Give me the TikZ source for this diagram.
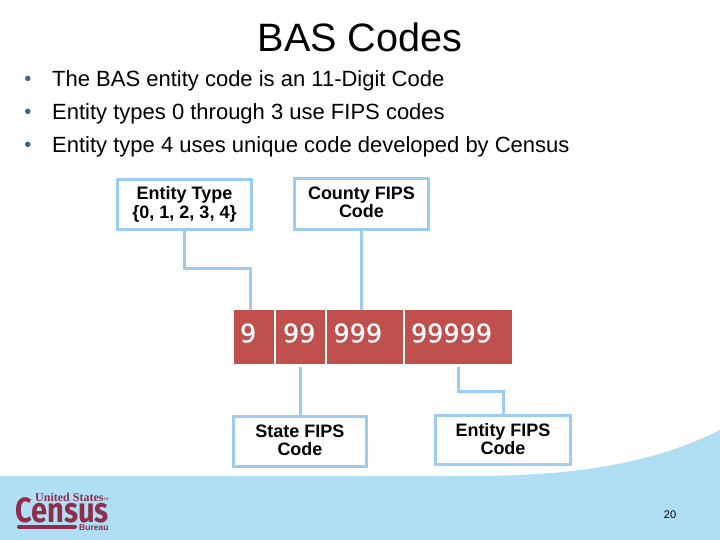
\documentclass[tikz,border=0pt]{standalone}
\usepackage{fontspec}
\setmainfont{Liberation Sans}
\newfontfamily\cellfont[FakeBold=0.5]{DejaVu Sans}
\newfontfamily\logofont{Fira Sans}
\newfontfamily\logoserif{Liberation Serif}
\usetikzlibrary{positioning}
\definecolor{boxblue}{HTML}{9DCBF1}
\definecolor{footblue}{HTML}{B0DEF3}
\definecolor{cellred}{HTML}{C0504D}
\definecolor{logored}{HTML}{902C4C}
\definecolor{dotblue}{HTML}{3F5F85}
\newcommand{\liftlast}[1]{\rule[-#1]{0pt}{0pt}}
\tikzset{
	labelbox/.style={draw=boxblue,line width=3pt,fill=white,inner sep=0,outer sep=0,align=center,font=\fontsize{18}{18}\selectfont\bfseries},
	cellbox/.style={fill=cellred,text=white,inner sep=0,outer sep=0,minimum height=54pt,anchor=west,text height=18.6pt,text depth=8pt,font=\fontsize{25.5}{30}\selectfont\cellfont},
	link/.style={draw=boxblue,line width=3pt},
	bulletline/.style={anchor=base west,inner sep=0,font=\fontsize{22}{26}\selectfont,text=black},
	bulletdot/.style={anchor=base,inner sep=0,font=\fontsize{20}{24}\selectfont,text=dotblue}
}
\begin{document}
\begin{tikzpicture}[x=1pt,y=-1pt]
	\useasboundingbox (0,0) rectangle (720,540);
	\fill[footblue] (0,476) -- (470,476) .. controls (570,476) and (650,465) .. (720,430) -- (720,540) -- (0,540) -- cycle;
	\node[inner sep=0,anchor=base,font=\fontsize{39.6}{44}\selectfont] (title) at (360,52) {BAS Codes};
	\node[bulletdot] (dot1) at (28,86) {•};
	\node[bulletdot] (dot2) at (28,119) {•};
	\node[bulletdot] (dot3) at (28,152) {•};
	\node[bulletline] (line1) at (52,87) {The BAS entity code is an 11-Digit Code};
	\node[bulletline] (line2) at (52,120) {Entity types 0 through 3 use FIPS codes};
	\node[bulletline] (line3) at (52,153) {Entity type 4 uses unique code developed by Census};
	\node[labelbox,minimum width=134pt,minimum height=50pt] (typebox) at (184.5,204.5) {Entity Type\\[1pt]{\{0, 1, 2, 3, 4\}}};
	\node[labelbox,minimum width=134pt,minimum height=51pt] (countybox) at (361.5,204) {County FIPS\\Code\liftlast{4pt}};
	\node[labelbox,minimum width=133pt,minimum height=50pt] (statebox) at (300,441.5) {State FIPS\\Code\liftlast{3pt}};
	\node[labelbox,minimum width=135pt,minimum height=49pt] (fipsbox) at (503,440) {Entity FIPS\\Code\liftlast{2pt}};
	\node[cellbox,minimum width=40pt,text width=34pt,inner xsep=3pt] (cell1) at (234,337) {\hspace{3pt}9};
	\node[cellbox,minimum width=49pt,text width=42pt,inner xsep=3.5pt] (cell2) at (276,337) {\hspace{3.5pt}99};
	\node[cellbox,minimum width=76pt,text width=70pt,inner xsep=3pt] (cell3) at (327,337) {\hspace{3.5pt}999};
	\node[cellbox,minimum width=107pt,text width=100pt,inner xsep=3.5pt] (cell4) at (405,337) {\hspace{2.5pt}99999};
	\draw[link] (typebox.south) -- ++(0,38.5) -| ([xshift=-4pt]cell1.north);
	\draw[link] (countybox.south) -- (countybox.south |- cell3.north);
	\draw[link] ([yshift=-3pt]statebox.north |- cell2.south) -- (statebox.north);
	\draw[link] ([yshift=-3pt]cell4.south) -- ++(0,24) -| (fipsbox.north);
	\node[anchor=base west,inner sep=0,text=logored,font=\fontsize{12}{14}\selectfont\logoserif\bfseries] (logotop) at (35,501) {United States{\fontsize{5}{5}\selectfont ™}};
	\node[anchor=base west,inner sep=0,text=logored,font=\fontsize{35}{38}\selectfont\logofont\bfseries] (logomain) at (15,522) {\scalebox{.83}[1]{Census}};
	\node[anchor=base west,inner sep=0,text=logored,font=\fontsize{8.5}{10}\selectfont\bfseries] (logolow) at (79,530) {Bureau};
	\coordinate (barleft) at (19,526.5);
	\coordinate (barright) at (75,526.5);
	\draw[logored,line width=4pt,line cap=round] (barleft) -- (barright);
	\node[inner sep=0,font=\fontsize{11}{13}\selectfont] (pagenum) at (670,515) {20};
\end{tikzpicture}
\end{document}
